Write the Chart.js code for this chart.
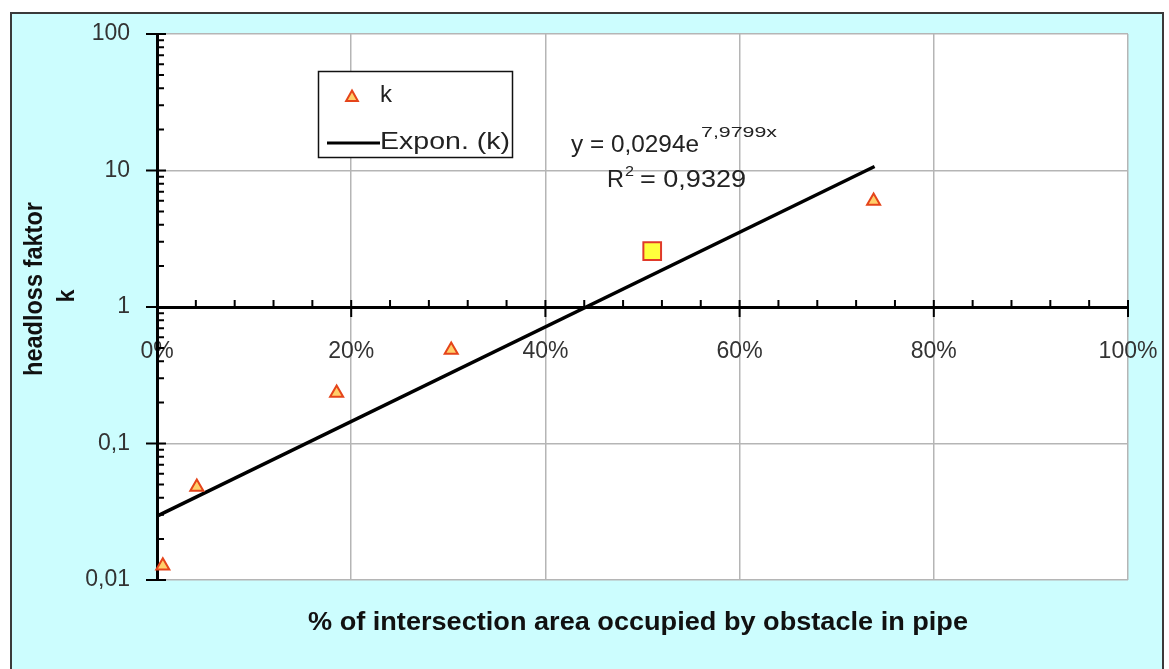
<!DOCTYPE html>
<html>
<head>
<meta charset="utf-8">
<script src="https://cdn.jsdelivr.net/npm/chart.js@4.4.1/dist/chart.umd.min.js"></script>
<style>
  html, body { margin: 0; padding: 0; background: #fff; }
  #wrap { width: 1169px; height: 669px; position: relative; }
</style>
</head>
<body>
<div id="wrap"><canvas id="c" width="1169" height="669"></canvas></div>
<script>
// Measured headloss factor k against share of pipe cross-section blocked
const obstacleShare = [0.006, 0.041, 0.185, 0.303, 0.510, 0.738];
const headlossK     = [0.0127, 0.048, 0.234, 0.484, 2.57, 5.98];
const highlightedPoint = 4;

// Exponential trend  k = A * e^(B * x)
const trendCoefA = 0.0294;
const trendCoefB = 7.9799;
const trendR2    = 0.9329;
const trendSpan  = [0, 0.739];

// Axis ticks
const yTickValues = [0.01, 0.1, 1, 10, 100];
const xTickValues = [0, 0.2, 0.4, 0.6, 0.8, 1];
const xMinorStep  = 0.04;

const seriesLabel = 'k';
const trendLabel  = 'Expon. (k)';
const xTitle = '% of intersection area occupied by obstacle in pipe';
const yTitle = ['headloss faktor', 'k'];

const FONT = "'Liberation Sans', Arial, sans-serif";
const TITLE_FONT = "'Liberation Sans Narrow', 'Liberation Sans', Arial, sans-serif";
const comma = v => String(v).replace('.', ',');

const TRI_FILL = '#ffcf6a', TRI_EDGE = '#e5441a';

function drawTriangle(ctx, x, y, r) {
  ctx.save();
  ctx.beginPath();
  ctx.moveTo(x, y - r);
  ctx.lineTo(x + r * 0.9, y + r * 0.6);
  ctx.lineTo(x - r * 0.9, y + r * 0.6);
  ctx.closePath();
  ctx.fillStyle = TRI_FILL;
  ctx.fill();
  ctx.lineWidth = 2;
  ctx.strokeStyle = TRI_EDGE;
  ctx.stroke();
  ctx.restore();
}

// Draws text squeezed/stretched horizontally to a given width
function fittedText(ctx, text, x, y, width, font, opts = {}) {
  ctx.save();
  ctx.font = font;
  const w = ctx.measureText(text).width;
  ctx.translate(x, y);
  if (opts.rotate) ctx.rotate(-Math.PI / 2);
  ctx.scale(width / w, 1);
  ctx.textAlign = opts.align || 'center';
  ctx.textBaseline = opts.baseline || 'middle';
  ctx.fillText(text, 0, 0);
  ctx.restore();
  return width;
}

const framePlugin = {
  id: 'frame',
  beforeDraw(chart) {
    const { ctx, chartArea: a } = chart;
    ctx.save();
    ctx.fillStyle = '#fff';
    ctx.fillRect(0, 0, chart.width, chart.height);
    ctx.fillStyle = '#ccfdfe';
    ctx.fillRect(11, 13, 1152, chart.height - 13);
    ctx.strokeStyle = '#3a3a3a';
    ctx.lineWidth = 2;
    ctx.beginPath();
    ctx.moveTo(11, chart.height);
    ctx.lineTo(11, 13);
    ctx.lineTo(1163, 13);
    ctx.lineTo(1163, chart.height);
    ctx.stroke();
    ctx.fillStyle = '#fff';
    ctx.fillRect(a.left, a.top, a.right - a.left, a.bottom - a.top);
    ctx.restore();
  }
};

const decorPlugin = {
  id: 'decor',
  afterDraw(chart) {
    const { ctx } = chart;
    const xs = chart.scales.x, ys = chart.scales.y;
    const axisY = ys.getPixelForValue(1);
    const axisX = xs.getPixelForValue(0);
    ctx.save();
    ctx.strokeStyle = '#000';
    ctx.lineWidth = 2;
    ctx.beginPath();
    // y axis: minor ticks inside, major ticks crossing
    for (let d = 0; d < yTickValues.length; d++) {
      const base = yTickValues[d];
      const py = ys.getPixelForValue(base);
      ctx.moveTo(axisX - 11, py); ctx.lineTo(axisX + 9, py);
      if (d < yTickValues.length - 1) {
        for (let m = 2; m <= 9; m++) {
          const my = ys.getPixelForValue(base * m);
          ctx.moveTo(axisX, my); ctx.lineTo(axisX + 7, my);
        }
      }
    }
    // x axis (drawn through k = 1)
    const nMinor = Math.round(1 / xMinorStep);
    for (let i = 0; i <= nMinor; i++) {
      const v = i * xMinorStep;
      const px = xs.getPixelForValue(v);
      const major = xTickValues.some(t => Math.abs(t - v) < 1e-9);
      if (major) { ctx.moveTo(px, axisY - 7); ctx.lineTo(px, axisY + 10); }
      else { ctx.moveTo(px, axisY - 7); ctx.lineTo(px, axisY); }
    }
    ctx.stroke();
    ctx.restore();

    // legend
    ctx.save();
    ctx.fillStyle = '#fff';
    ctx.fillRect(318, 71, 194, 86);
    ctx.strokeStyle = '#111';
    ctx.lineWidth = 1.5;
    ctx.strokeRect(318.5, 71.5, 194, 86);
    drawTriangle(ctx, 352, 97, 6.5);
    ctx.fillStyle = '#222';
    fittedText(ctx, seriesLabel, 380, 95, 12, '24px ' + FONT, { align: 'left' });
    ctx.strokeStyle = '#000';
    ctx.lineWidth = 3;
    ctx.beginPath();
    ctx.moveTo(327, 143); ctx.lineTo(380, 143);
    ctx.stroke();
    fittedText(ctx, trendLabel, 380, 142, 130, '24px ' + FONT, { align: 'left' });
    ctx.restore();

    // trend equation
    ctx.save();
    ctx.fillStyle = '#222';
    const base1 = { align: 'left', baseline: 'alphabetic' };
    fittedText(ctx, 'y = ' + comma(trendCoefA) + 'e', 571, 152, 128, '24px ' + FONT, base1);
    fittedText(ctx, comma(trendCoefB) + 'x', 701, 137, 76, '14px ' + FONT, base1);
    fittedText(ctx, 'R', 607, 187, 17, '24px ' + FONT, base1);
    fittedText(ctx, '2', 625, 176, 9, '15px ' + FONT, base1);
    fittedText(ctx, '= ' + comma(trendR2), 640, 187, 106, '24px ' + FONT, base1);
    ctx.restore();

    // axis titles
    ctx.save();
    ctx.fillStyle = '#111';
    fittedText(ctx, xTitle, 638, 623, 660, 'bold 26px ' + TITLE_FONT);
    fittedText(ctx, yTitle[0], 35, 289, 174, 'bold 25px ' + TITLE_FONT, { rotate: true });
    fittedText(ctx, yTitle[1], 67, 296, 13, 'bold 24px ' + TITLE_FONT, { rotate: true });
    ctx.restore();
  }
};

const gridColor = (hidden) => (c) =>
  (c.tick && Math.abs(c.tick.value - hidden) < 1e-9) ? 'rgba(0,0,0,0)' : '#b5b5b5';

const noEdgePadding = s => {
  s.paddingLeft = 0; s.paddingRight = 0; s.paddingTop = 0; s.paddingBottom = 0;
};

new Chart(document.getElementById('c'), {
  type: 'scatter',
  data: {
    datasets: [
      {
        label: seriesLabel,
        data: obstacleShare.map((x, i) => ({ x, y: headlossK[i] })),
        pointStyle: c => c.dataIndex === highlightedPoint ? 'rect' : 'triangle',
        pointRadius: c => c.dataIndex === highlightedPoint ? 12.5 : 7.5,
        pointBackgroundColor: c => c.dataIndex === highlightedPoint ? '#ffff3c' : TRI_FILL,
        pointBorderColor: c => c.dataIndex === highlightedPoint ? '#e03a2a' : TRI_EDGE,
        pointBorderWidth: 2,
        clip: false
      },
      {
        label: trendLabel,
        type: 'line',
        data: trendSpan.map(x => ({ x, y: trendCoefA * Math.exp(trendCoefB * x) })),
        borderColor: '#000',
        borderWidth: 3.5,
        pointRadius: 0,
        fill: false,
        tension: 0,
        clip: false
      }
    ]
  },
  options: {
    responsive: false,
    animation: false,
    devicePixelRatio: 1,
    layout: { padding: { left: 0, top: 34, right: 41, bottom: 89 } },
    plugins: { legend: { display: false }, tooltip: { enabled: false } },
    scales: {
      x: {
        type: 'linear',
        min: 0, max: 1,
        position: { y: 1 },
        afterBuildTicks: s => { s.ticks = xTickValues.map(v => ({ value: v })); },
        afterFit: noEdgePadding,
        ticks: {
          callback: v => Math.round(v * 100) + '%',
          font: { family: FONT, size: 23 },
          color: '#333',
          padding: 31,
          maxRotation: 0,
          autoSkip: false
        },
        grid: { color: gridColor(0), lineWidth: 1.5, drawTicks: false },
        border: { color: '#000', width: 3 }
      },
      y: {
        type: 'logarithmic',
        min: 0.01, max: 100,
        position: 'left',
        afterBuildTicks: s => { s.ticks = yTickValues.map(v => ({ value: v })); },
        afterFit: s => { noEdgePadding(s); s.width = 157; },
        ticks: {
          callback: v => comma(v),
          font: { family: FONT, size: 23 },
          color: '#333',
          padding: 27,
          autoSkip: false
        },
        grid: { color: gridColor(1), lineWidth: 1.5, drawTicks: false },
        border: { color: '#000', width: 3 }
      }
    }
  },
  plugins: [framePlugin, decorPlugin]
});
</script>
</body>
</html>
